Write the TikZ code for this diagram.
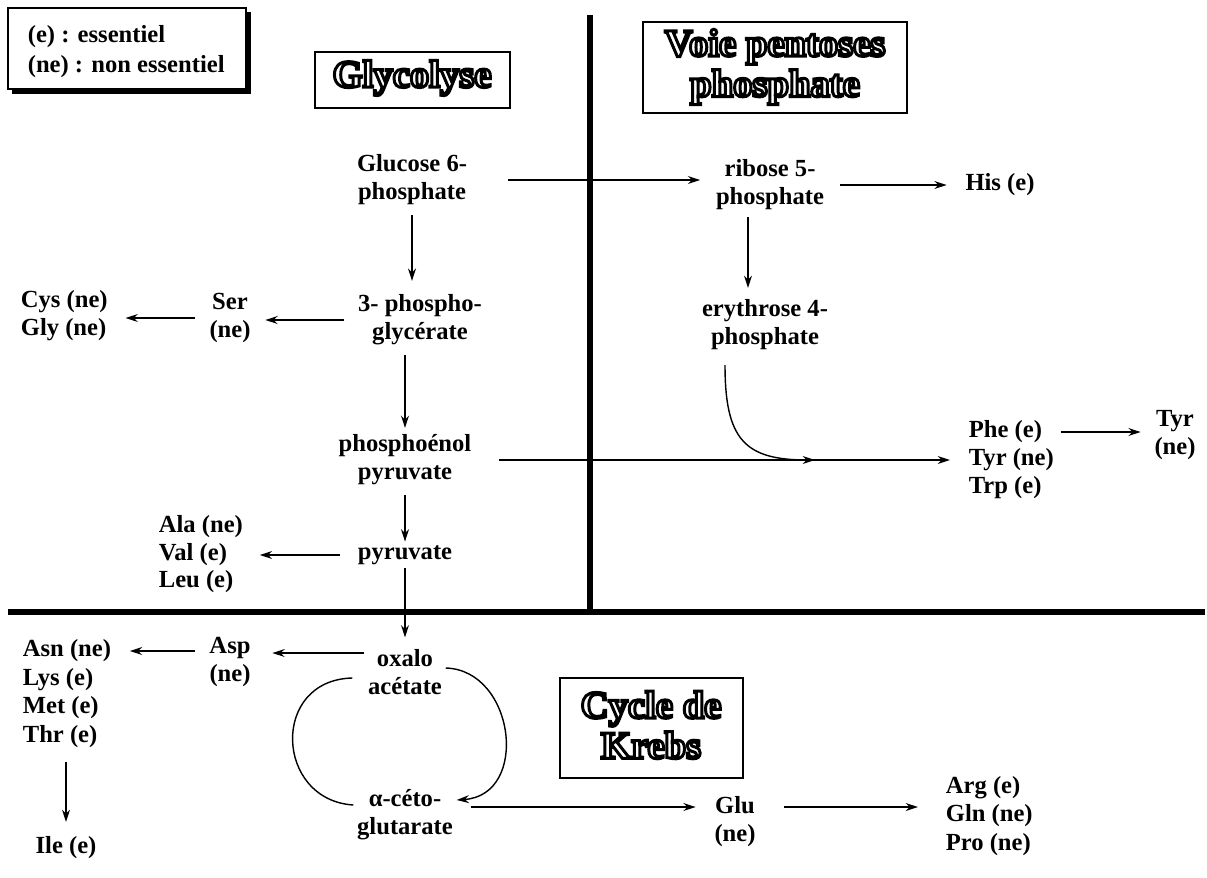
\documentclass[tikz,border=0pt]{standalone}
\usepackage{fontspec}
\setmainfont{Liberation Serif}
\usetikzlibrary{arrows.meta}
\newcommand\mylabfont{\fontsize{14}{16}\selectfont\bfseries}
\newcommand\mytitlefont{\fontsize{22}{23}\selectfont\bfseries}
\newcommand\strokeon{\special{pdf:literal direct 2 Tr 1.7 w 0 G}}
\newcommand\strokeoff{\special{pdf:literal direct 0 Tr}}
\newcommand\outlinedtitle[3]{%
  \node[ttl,text=white] (#1) at (#2) {\strokeon#3\strokeoff};
}
\begin{document}
\begin{tikzpicture}[x=0.02cm,y=-0.02cm,
  lab/.style={font=\mylabfont, align=center, inner sep=2pt},
  lst/.style={font=\mylabfont, align=left, inner sep=2pt, anchor=west},
  ttl/.style={font=\mytitlefont, align=center, inner sep=0pt},
  arr/.style={line width=0.8pt, -{Stealth[length=7pt,width=4.5pt]}},
  plain/.style={line width=0.8pt},
  sepline/.style={line width=3pt},
  tbox/.style={line width=1pt}
]
\useasboundingbox (0,0) rectangle (1207,877);

% separators
\draw[sepline] (590,15) -- (590,610);
\draw[sepline] (8,612) -- (1205,612);

% legend
\fill (12,12) rectangle (251,94);
\filldraw[fill=white, line width=0.8pt] (8,8) rectangle (246,89);
\node[lst] (leg1) at (24,37) {(e) : essentiel};
\node[lst] (leg2) at (24,67) {(ne) : non essentiel};

% titles
\draw[tbox] (315,52) rectangle (510,108);
\outlinedtitle{tglyc}{412,78}{Glycolyse}
\draw[tbox] (643,22) rectangle (907,113);
\outlinedtitle{tpent}{775,67}{Voie pentoses\\phosphate}
\draw[tbox] (560,678) rectangle (743,778);
\outlinedtitle{tkreb}{651,725}{Cycle de\\Krebs}

% nodes
\node[lab] (g6p) at (412,180) {Glucose 6-\\phosphate};
\node[lab] (pg3) at (420,320) {3- phospho-\\glycérate};
\node[lab] (ser) at (230,318) {Ser\\(ne)};
\node[lst] (cys) at (17,316) {Cys (ne)\\Gly (ne)};
\node[lab] (pep) at (405,460) {phosphoénol\\pyruvate};
\node[lab] (pyr) at (405,555) {pyruvate};
\node[lst] (ala) at (155,527) {Ala (ne)};
\node[lst] (val) at (155,555) {Val (e)};
\node[lst] (leu) at (155,582) {Leu (e)};
\node[lab] (oxa) at (405,672) {oxalo\\acétate};
\node[lab] (asp) at (230,662) {Asp\\(ne)};
\node[lst] (asn) at (19,651) {Asn (ne)};
\node[lst] (lys) at (19,680) {Lys (e)};
\node[lst] (met) at (19,708) {Met (e)};
\node[lst] (thr) at (19,737) {Thr (e)};
\node[lab] (ile) at (66,848) {Ile (e)};
\node[lab] (akg) at (405,815) {α-céto-\\glutarate};
\node[lab] (glu) at (735,822) {Glu\\(ne)};
\node[lst] (arg) at (942,816) {Arg (e)\\Gln (ne)\\Pro (ne)};
\node[lab] (rib) at (770,185) {ribose 5-\\phosphate};
\node[lab] (his) at (1000,185) {His (e)};
\node[lab] (ery) at (765,325) {erythrose 4-\\phosphate};
\node[lst] (phe) at (965,432) {Phe (e)};
\node[lst] (tyr) at (965,460) {Tyr (ne)};
\node[lst] (trp) at (965,488) {Trp (e)};
\node[lab] (tyr2) at (1175,435) {Tyr\\(ne)};

% helper coordinates
\path ([yshift=0.38cm]oxa.west) coordinate (oxaw);
\path ([yshift=0.16cm]akg.east) coordinate (akge);
\path ([yshift=0.3cm]glu.east) coordinate (glue);
\path ([xshift=-0.44cm]rib.south) coordinate (ribs);
\path ([xshift=-0.8cm]ery.south) coordinate (erys);
\coordinate (join) at (815,460);

% connectors
\draw[arr, shorten <=0.74cm, shorten >=0.24cm] (g6p.east) -- (g6p.east -| rib.west);
\draw[arr, shorten <=0.12cm, shorten >=0.2cm] (g6p.south) -- (g6p.south |- pg3.north);
\draw[arr, shorten <=0.2cm, shorten >=0.22cm] (pg3.west) -- (pg3.west -| ser.east);
\draw[arr, shorten <=0.22cm, shorten >=0.28cm] (ser.west) -- (ser.west -| cys.east);
\draw[arr, shorten <=0.12cm, shorten >=0.06cm] (pep.north |- pg3.south) -- (pep.north);
\draw[arr, shorten <=0.48cm, shorten >=0.3cm] (pep.east) -- (tyr.west);
\draw[arr, shorten <=0.12cm] (pep.south) -- (pyr.north);
\draw[arr, shorten <=0.28cm, shorten >=0.58cm] (pyr.west) -- (val.east);
\draw[arr, shorten >=0.16cm] (pyr.south) -- (oxa.north);
\draw[arr, shorten >=0.36cm] (oxaw) -- (oxaw -| asp.east);
\draw[arr, shorten <=0.22cm, shorten >=0.3cm] (asp.west |- asn) -- (asn.east);
\draw[arr, shorten <=0.2cm, shorten >=0.22cm] (thr.south -| ile) -- (ile.north);
\draw[arr, shorten <=0.28cm, shorten >=0.3cm] (akge) -- (akge -| glu.west);
\draw[arr, shorten <=0.5cm, shorten >=0.48cm] (glue) -- (glue -| arg.west);
\draw[arr, shorten <=0.24cm, shorten >=0.3cm] (rib.east) -- (his.west);
\draw[arr, shorten <=0.06cm, shorten >=0.16cm] (ribs) -- (ribs |- ery.north);
\draw[arr, shorten <=0.3cm, shorten >=0.2cm] (phe.east) -- (phe.east -| tyr2.west);
\draw[arr, shorten <=0.22cm] (erys) .. controls (725,440) and (745,460) .. (join);

% Krebs cycle
\draw[arr] ([yshift=0.08cm]oxa.east) .. controls (515,670) and (530,795) .. ([yshift=0.3cm]akg.east);
\draw[plain] ([yshift=0.2cm]akg.west) .. controls (275,800) and (270,680) .. ([xshift=-0.24cm,yshift=-0.12cm]oxa.west);
\end{tikzpicture}
\end{document}
